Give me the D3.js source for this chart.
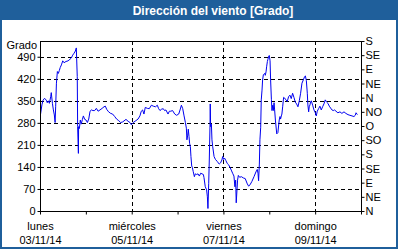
<!DOCTYPE html>
<html>
<head>
<meta charset="utf-8">
<script src="https://cdn.jsdelivr.net/npm/d3@7"></script>
<style>
  body { margin: 0; background: #fff; }
  svg { display: block; font-family: "Liberation Sans", Arial, sans-serif; }
</style>
</head>
<body>
<div id="chart"></div>
<script>
// data: hours since 03/11/14 00:00 and wind direction (deg)
const obsHours = [0.3, 1.0, 1.6, 2.4, 3.3, 3.8, 4.4, 4.9, 5.6, 5.9, 6.5, 7.0, 7.5, 7.9, 8.2, 8.6, 9.1, 9.6, 10.1, 10.6,
  11.2, 11.9, 12.6, 13.6, 14.7, 15.7, 16.4, 17.1, 17.8, 18.5, 19.0, 19.5, 19.7, 20.1, 20.2, 20.6, 21.1, 21.6, 22.2, 22.7,
  23.4, 24.1, 24.8, 25.5, 26.2, 26.9, 27.7, 28.6, 29.5, 30.4, 31.4, 32.5, 33.5, 34.2, 34.9, 35.9, 37.0, 38.0, 39.1, 40.1,
  41.2, 42.2, 43.3, 45.0, 46.1, 47.1, 47.8, 48.8, 50.2, 51.3, 52.3, 53.0, 53.7, 54.4, 55.1, 56.2, 57.2, 58.3, 59.3, 60.4,
  61.4, 62.1, 62.8, 63.5, 64.5, 65.2, 65.9, 67.0, 67.7, 68.4, 69.4, 70.5, 71.5, 72.6, 73.3, 74.0, 74.7, 75.4, 76.1, 76.6,
  76.9, 77.3, 77.6, 78.0, 78.3, 78.7, 79.0, 79.4, 79.7, 80.2, 80.8, 81.3, 82.0, 82.7, 83.4, 84.1, 85.5, 85.8, 86.5, 87.2,
  87.6, 87.9, 88.3, 88.6, 89.0, 89.1, 89.3, 89.7, 90.0, 90.4, 91.1, 91.8, 92.8, 93.8, 94.5, 95.2, 95.6, 96.1, 96.6, 97.3,
  98.0, 98.7, 99.4, 100.1, 100.8, 101.5, 102.0, 102.4, 102.7, 103.1, 103.4, 103.8, 104.5, 105.4, 106.4, 107.4, 108.5, 109.2, 109.9, 110.9,
  112.0, 113.0, 113.7, 114.1, 114.4, 114.8, 115.1, 115.5, 115.8, 116.2, 116.5, 116.9, 117.6, 117.9, 118.3, 118.6, 119.0, 119.3, 119.7, 120.0,
  120.4, 120.7, 121.1, 121.4, 121.8, 122.1, 122.5, 122.8, 123.2, 123.9, 124.5, 125.2, 125.6, 125.9, 126.3, 126.6, 127.0, 127.5, 128.0, 128.7,
  129.4, 130.1, 130.8, 131.5, 132.2, 132.9, 133.6, 134.3, 135.0, 135.7, 136.4, 137.1, 137.8, 138.5, 138.9, 139.4, 139.9, 140.2, 140.6, 140.9,
  141.3, 141.6, 142.0, 142.7, 143.4, 144.1, 144.6, 145.1, 145.8, 146.5, 147.2, 147.9, 148.6, 149.3, 150.0, 150.7, 151.4, 152.1, 152.8, 153.5,
  154.2, 154.9, 155.9, 157.0, 158.0, 159.1, 160.1, 161.2, 162.2, 163.3, 164.3, 165.0, 165.4, 166.1];
const obsDeg = [308, 337, 352, 358, 352, 344, 350, 342, 363, 376, 342, 321, 305, 281, 331, 406, 443, 437, 446, 456,
  464, 477, 471, 475, 477, 482, 486, 495, 501, 508, 518, 427, 268, 183, 268, 262, 289, 276, 291, 302,
  291, 289, 281, 292, 317, 321, 319, 319, 326, 317, 321, 326, 331, 333, 323, 315, 310, 308, 300, 292,
  287, 281, 283, 291, 285, 281, 274, 281, 287, 292, 302, 317, 321, 308, 329, 326, 325, 336, 333, 331,
  336, 325, 319, 323, 325, 319, 321, 308, 317, 317, 319, 308, 304, 308, 321, 336, 325, 302, 281, 263,
  226, 241, 260, 236, 215, 204, 173, 143, 139, 125, 109, 118, 116, 118, 111, 120, 116, 107, 77, 67,
  45, 8, 88, 162, 279, 340, 268, 276, 226, 204, 173, 164, 157, 149, 153, 162, 173, 164, 168, 160,
  151, 147, 139, 130, 120, 111, 77, 98, 26, 67, 98, 113, 107, 109, 105, 103, 86, 79, 83, 94,
  109, 124, 132, 120, 96, 149, 226, 266, 353, 384, 416, 433, 437, 431, 442, 458, 475, 482, 492, 494,
  477, 416, 355, 319, 336, 319, 344, 321, 289, 245, 249, 289, 300, 292, 302, 308, 331, 361, 359, 353,
  348, 363, 368, 357, 374, 361, 346, 340, 331, 350, 374, 406, 416, 427, 429, 414, 374, 337, 315, 331,
  337, 346, 350, 336, 321, 312, 302, 317, 325, 333, 321, 331, 340, 353, 346, 342, 333, 327, 321, 319,
  321, 317, 312, 315, 310, 315, 310, 306, 304, 302, 300, 304, 312, 306];

const dayNames = ["lunes", "martes", "miércoles", "jueves", "viernes", "sábado", "domingo", "lunes"];
const dayDates = ["03/11/14", "04/11/14", "05/11/14", "06/11/14", "07/11/14", "08/11/14", "09/11/14", "10/11/14"];
const degTicks = [0, 70, 140, 210, 280, 350, 420, 490];
const compass = ["N", "NE", "E", "SE", "S", "SO", "O", "NO", "N", "NE", "E", "SE", "S"];

const W = 400, H = 250;
const margin = { top: 41, right: 39, bottom: 39, left: 40 };
const blue = "#1f5f9b";

const svg = d3.select("#chart").append("svg").attr("width", W).attr("height", H);

// frame + title bar
svg.append("rect").attr("x", 0).attr("y", 0).attr("width", W).attr("height", H).attr("fill", "#fff");
svg.append("rect").attr("x", 1).attr("y", 1).attr("width", W - 4).attr("height", H - 3)
  .attr("fill", "none").attr("stroke", blue).attr("stroke-width", 2);
svg.append("rect").attr("x", 0).attr("y", 0).attr("width", W - 2).attr("height", 20).attr("fill", blue);
svg.append("text").attr("x", 213).attr("y", 15).attr("text-anchor", "middle")
  .attr("fill", "#fff").attr("font-weight", "bold").attr("font-size", 12)
  .text("Dirección del viento [Grado]");

const t0 = new Date(2014, 10, 3);
const days = d3.range(8).map(i => d3.timeDay.offset(t0, i));

const x = d3.scaleTime()
  .domain([t0, days[7]])
  .range([margin.left, W - margin.right]);
const y = d3.scaleLinear()
  .domain([0, 540])
  .range([H - margin.bottom, margin.top]);

const data = obsHours.map((h, i) => ({ t: d3.timeMinute.offset(t0, Math.round(h * 60)), v: obsDeg[i] }));

// grid
const grid = svg.append("g").attr("stroke", "#000").attr("stroke-dasharray", "4,3").attr("stroke-width", 1);
degTicks.slice(1).forEach(v => {
  grid.append("line")
    .attr("x1", margin.left).attr("x2", W - margin.right)
    .attr("y1", Math.round(y(v)) + 0.5).attr("y2", Math.round(y(v)) + 0.5);
});
[2, 4, 6].forEach(i => {
  grid.append("line")
    .attr("x1", Math.round(x(days[i])) + 0.5).attr("x2", Math.round(x(days[i])) + 0.5)
    .attr("y1", margin.top).attr("y2", H - margin.bottom);
});

// line
svg.append("path").datum(data)
  .attr("fill", "none").attr("stroke", "#0000f0").attr("stroke-width", 1)
  .attr("d", d3.line().x(d => x(d.t)).y(d => y(d.v)));

// plot frame
svg.append("rect")
  .attr("x", margin.left + 0.5).attr("y", margin.top + 0.5)
  .attr("width", W - margin.left - margin.right).attr("height", H - margin.top - margin.bottom)
  .attr("fill", "none").attr("stroke", "#000");

// axes
const styleAxis = g => {
  g.select(".domain").remove();
  g.selectAll(".tick line").attr("stroke", "#000");
  g.selectAll(".tick text").attr("font-size", 11).attr("fill", "#000")
    .attr("font-family", "'Liberation Sans', Arial, sans-serif");
};

svg.append("g")
  .attr("transform", `translate(${margin.left + 0.5},0)`)
  .call(d3.axisLeft(y).tickValues(degTicks).tickSize(3).tickPadding(2))
  .call(styleAxis);

svg.append("g")
  .attr("transform", `translate(${W - margin.right + 0.5},0)`)
  .call(d3.axisRight(y).tickValues(d3.range(0, 541, 45)).tickSize(3).tickPadding(1)
    .tickFormat((d, i) => compass[i]))
  .call(styleAxis);

const xAx = svg.append("g")
  .attr("transform", `translate(0,${H - margin.bottom + 0.5})`)
  .call(d3.axisBottom(x).tickValues(days).tickSize(3).tickFormat(""))
  .call(styleAxis);

xAx.selectAll(".tick").each(function (d, i) {
  if (i % 2 !== 0 || i === 7) return;
  const g = d3.select(this);
  g.append("text").attr("y", 18).attr("text-anchor", "middle").attr("font-size", 11).attr("fill", "#000")
    .text(dayNames[i]);
  g.append("text").attr("y", 32).attr("text-anchor", "middle").attr("font-size", 11).attr("fill", "#000")
    .text(dayDates[i]);
});

svg.append("text").attr("x", 37).attr("y", 49).attr("text-anchor", "end")
  .attr("font-size", 11).attr("fill", "#000").text("Grado");
</script>
</body>
</html>
